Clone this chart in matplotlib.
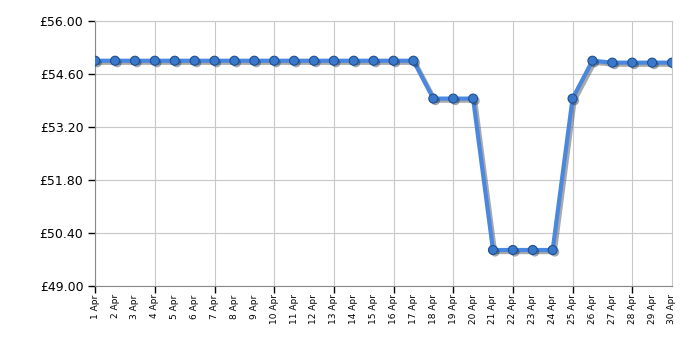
import numpy as np
import matplotlib
matplotlib.use('Agg')
import matplotlib.pyplot as plt
import matplotlib.patheffects as pe

# Datos del precio por día de abril
dias = list(range(1, 31))
etiquetas = [f"{d} Apr" for d in dias]
precios = [54.95] * 17 + [53.95, 53.95, 53.95] + [49.95] * 4 + [53.95, 54.95, 54.90, 54.90, 54.90, 54.90]
yticks = [49.00, 50.40, 51.80, 53.20, 54.60, 56.00]

fig = plt.figure(figsize=(7, 3.5), dpi=100)
ax = fig.add_axes([0.136, 0.183, 0.824, 0.757])

sombra = [pe.SimpleLineShadow(offset=(1.5, -1.5), shadow_color='#555555', alpha=0.5), pe.Normal()]
ax.plot(dias, precios, color='#4a88e0', lw=3, zorder=3, path_effects=sombra)
ax.plot(dias, precios, 'o', ms=6.5, mfc='#3a78cc', mec='#1f4f8f', mew=0.8, zorder=4,
        path_effects=[pe.SimplePatchShadow(offset=(1.5, -1.5), alpha=0.4), pe.Normal()])

ax.set_xlim(1, 30)
ax.set_ylim(49, 56)
ax.set_yticks(yticks)
ax.set_yticklabels([f"£{v:.2f}" for v in yticks], fontsize=9)

# etiquetas en todos los días, marcas y rejilla cada 3 días
ax.xaxis.remove_overlapping_locs = False
ax.set_xticks(dias)
ax.set_xticklabels(etiquetas, rotation=90, fontsize=6.5)
ax.set_xticks(dias[::3], minor=True)
ax.tick_params(axis='x', which='major', length=0, pad=6)
ax.tick_params(axis='x', which='minor', length=5, width=1, color='#000000')
ax.tick_params(axis='y', length=5, width=1, color='#000000')
ax.grid(True, axis='x', which='minor', color='#c8c8c8', lw=0.8)
ax.grid(True, axis='y', which='major', color='#c8c8c8', lw=0.8)
ax.set_axisbelow(True)

for lado in ['top', 'right']:
    ax.spines[lado].set_color('#c8c8c8')
for lado in ['left', 'bottom']:
    ax.spines[lado].set_color('#888888')

fig.savefig('out.png', dpi=100)
